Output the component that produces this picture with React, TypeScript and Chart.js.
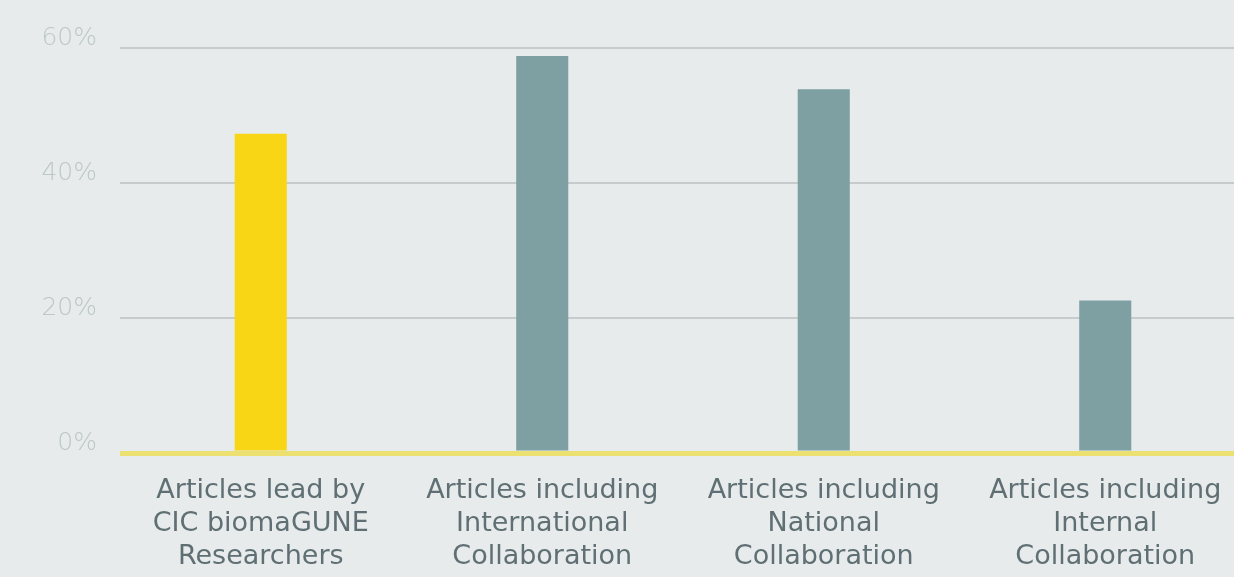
import React, { useEffect, useRef } from "react";
import { Chart, registerables } from "chart.js";

Chart.register(...registerables);

const categories: string[][] = [
  ["Articles lead by", "CIC biomaGUNE", "Researchers"],
  ["Articles including", "International", "Collaboration"],
  ["Articles including", "National", "Collaboration"],
  ["Articles including", "Internal", "Collaboration"],
];
const shareValues: number[] = [47.3, 58.8, 53.9, 22.6];
const barColors: string[] = ["#f8d515", "#7ea0a3", "#7ea0a3", "#7ea0a3"];
const yTicks: number[] = [0, 20, 40, 60];

const W = 1250;
const H = 577;

export default function App() {
  const ref = useRef<HTMLCanvasElement | null>(null);

  useEffect(() => {
    document.documentElement.style.overflow = "hidden";
    document.body.style.margin = "0";
    document.body.style.overflow = "hidden";
    document.body.style.background = "#e7ebec";
    const canvas = ref.current;
    if (!canvas) return;
    const chart = new Chart(canvas, {
      type: "bar",
      data: {
        labels: categories,
        datasets: [
          {
            data: shareValues,
            backgroundColor: barColors,
            borderWidth: 0,
            barPercentage: 0.74,
            categoryPercentage: 0.25,
          },
        ],
      },
      options: {
        animation: false,
        responsive: false,
        maintainAspectRatio: false,
        layout: { padding: { top: 48, left: 0, right: 4, bottom: 0 } },
        plugins: {
          legend: { display: false },
          tooltip: { enabled: false },
        },
        scales: {
          x: {
            grid: { display: false, drawTicks: false },
            border: { display: false },
            ticks: {
              padding: 22,
              color: "#5f6f73",
              maxRotation: 0,
              autoSkip: false,
              font: { family: "'DejaVu Sans', sans-serif", size: 27, lineHeight: 1.22 },
            },
            afterFit: (scale: any) => {
              scale.height = 124;
            },
          },
          y: {
            min: 0,
            max: 60,
            afterBuildTicks: (scale: any) => {
              scale.ticks = yTicks.map((v) => ({ value: v }));
            },
            grid: {
              drawTicks: false,
              color: (ctx: any) => (ctx.tick && ctx.tick.value === 0 ? "#ece070" : "#c6cccd"),
              lineWidth: (ctx: any) => (ctx.tick && ctx.tick.value === 0 ? 5 : 2),
            },
            border: { display: false },
            ticks: {
              padding: 23,
              labelOffset: -10,
              color: "#bcc7c8",
              font: { family: "'DejaVu Sans', sans-serif", size: 25, weight: 200 },
              callback: (v: any) => `${v}%`,
            },
            afterFit: (scale: any) => {
              scale.width = 120;
            },
          },
        },
      },
    });
    return () => chart.destroy();
  }, []);

  return (
    <div
      style={{
        position: "fixed",
        left: 0,
        top: 0,
        width: W,
        height: H,
        background: "#e7ebec",
      }}
    >
      <canvas ref={ref} width={W} height={H} style={{ width: W, height: H, display: "block" }} />
    </div>
  );
}
